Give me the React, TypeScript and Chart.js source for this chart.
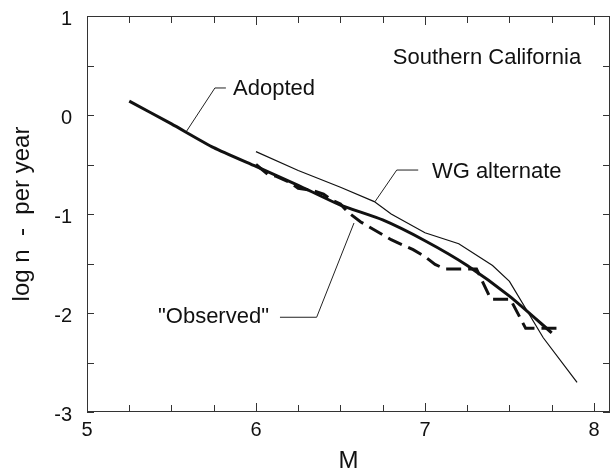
import React, { useEffect, useRef } from "react";
import { Chart, registerables } from "chart.js";

Chart.register(...registerables);

// ---- data ----
const adoptedM = [5.25, 5.5, 5.75, 6.0, 6.25, 6.5, 6.75, 7.0, 7.25, 7.5, 7.75];
const adoptedLogN = [0.14, -0.09, -0.33, -0.52, -0.71, -0.91, -1.06, -1.27, -1.52, -1.83, -2.2];

const wgM = [6.0, 6.25, 6.5, 6.7, 6.8, 7.0, 7.2, 7.4, 7.5, 7.7, 7.9];
const wgLogN = [-0.37, -0.56, -0.73, -0.875, -1.0, -1.19, -1.3, -1.52, -1.68, -2.25, -2.7];

const observedM = [6.0, 6.07, 6.12, 6.2, 6.25, 6.33, 6.4, 6.45, 6.5, 6.55, 6.62, 6.8, 6.93, 7.0, 7.06, 7.12, 7.305, 7.39, 7.505, 7.596, 7.81];
const observedLogN = [-0.5, -0.6, -0.62, -0.68, -0.74, -0.76, -0.8, -0.86, -0.9, -0.99, -1.08, -1.26, -1.36, -1.43, -1.51, -1.555, -1.555, -1.86, -1.86, -2.155, -2.155];

// leader lines for the annotations
const adoptedLeaderM = [5.822, 5.757, 5.586];
const adoptedLeaderLogN = [0.273, 0.273, -0.172];
const wgLeaderM = [6.96, 6.833, 6.704];
const wgLeaderLogN = [-0.556, -0.556, -0.876];
const obsLeaderM = [6.142, 6.359, 6.58];
const obsLeaderLogN = [-2.043, -2.043, -1.091];

const xTickLabels = ["5", "6", "7", "8"];
const yTickLabels = ["-3", "-2", "-1", "0", "1"];

const annotations = [
  { text: "Southern California", m: 6.81, logN: 0.575 },
  { text: "Adopted", m: 5.864, logN: 0.263 },
  { text: "WG alternate", m: 7.041, logN: -0.576 },
  { text: "\"Observed\"", m: 5.42, logN: -2.04 },
];

const FONT = '"Liberation Sans", Arial, Helvetica, sans-serif';
const INK = "#111";

const pts = (xs: number[], ys: number[]) => xs.map((x, i) => ({ x, y: ys[i] }));

const framePlugin = {
  id: "frameTicks",
  afterDraw(chart: any) {
    const { ctx, chartArea: a, scales } = chart;
    const xs = scales.x;
    const ys = scales.y;
    ctx.save();
    ctx.strokeStyle = "#333";
    ctx.lineWidth = 1;
    ctx.strokeRect(a.left + 0.5, a.top + 0.5, a.right - a.left - 1, a.bottom - a.top - 1);
    ctx.beginPath();
    xs.ticks.forEach((t: any) => {
      const px = Math.round(xs.getPixelForValue(t.value)) + 0.5;
      const len = Number.isInteger(t.value) ? 9 : 7;
      ctx.moveTo(px, a.bottom);
      ctx.lineTo(px, a.bottom - len);
      ctx.moveTo(px, a.top);
      ctx.lineTo(px, a.top + len);
    });
    ys.ticks.forEach((t: any) => {
      const py = Math.round(ys.getPixelForValue(t.value)) + 0.5;
      const len = 7;
      ctx.moveTo(a.left, py);
      ctx.lineTo(a.left + len, py);
      ctx.moveTo(a.right, py);
      ctx.lineTo(a.right - len, py);
    });
    ctx.stroke();

    ctx.fillStyle = INK;
    ctx.font = `22px ${FONT}`;
    ctx.textAlign = "left";
    ctx.textBaseline = "middle";
    annotations.forEach((an) => {
      ctx.fillText(an.text, xs.getPixelForValue(an.m), ys.getPixelForValue(an.logN));
    });
    ctx.restore();
  },
};

export default function App() {
  const ref = useRef<HTMLCanvasElement | null>(null);

  useEffect(() => {
    if (!ref.current) return;
    const thin = { borderColor: "#222", borderWidth: 1, pointRadius: 0, fill: false, tension: 0 };
    const chart = new Chart(ref.current, {
      type: "line",
      data: {
        datasets: [
          {
            label: "Adopted",
            data: pts(adoptedM, adoptedLogN),
            borderColor: INK,
            borderWidth: 3,
            pointRadius: 0,
            tension: 0.2,
            fill: false,
          },
          {
            label: "WG alternate",
            data: pts(wgM, wgLogN),
            borderColor: INK,
            borderWidth: 1.2,
            pointRadius: 0,
            tension: 0,
            fill: false,
          },
          {
            label: "Observed",
            data: pts(observedM, observedLogN),
            borderColor: INK,
            borderWidth: 3,
            borderDash: [15, 7],
            pointRadius: 0,
            tension: 0,
            fill: false,
          },
          { label: "l1", data: pts(adoptedLeaderM, adoptedLeaderLogN), ...thin },
          { label: "l2", data: pts(wgLeaderM, wgLeaderLogN), ...thin },
          { label: "l3", data: pts(obsLeaderM, obsLeaderLogN), ...thin },
        ],
      },
      options: {
        responsive: false,
        animation: false,
        parsing: false as any,
        layout: { padding: { left: 0, right: 6, top: 16, bottom: 0 } },
        plugins: { legend: { display: false }, tooltip: { enabled: false } },
        scales: {
          x: {
            type: "linear",
            min: 5,
            max: 8.095,
            grid: { display: false, drawTicks: false },
            border: { display: false },
            afterFit: (s: any) => {
              s.height = 59;
              s.paddingLeft = 0;
              s.paddingRight = 0;
            },
            ticks: {
              stepSize: 0.25,
              includeBounds: false,
              autoSkip: false,
              maxRotation: 0,
              padding: 6,
              color: INK,
              font: { family: FONT, size: 20 },
              callback: (v: any) => {
                const n = Number(v);
                if (!Number.isInteger(n)) return "";
                const s = String(n);
                return xTickLabels.includes(s) ? s : "";
              },
            },
            title: {
              display: true,
              text: "M",
              color: INK,
              font: { family: FONT, size: 24, lineHeight: 0.8 },
              padding: { top: 0, bottom: 0 },
            },
          },
          y: {
            type: "linear",
            min: -3,
            max: 1,
            grid: { display: false, drawTicks: false },
            border: { display: false },
            afterFit: (s: any) => {
              s.width = 87;
              s.paddingTop = 0;
              s.paddingBottom = 0;
            },
            ticks: {
              stepSize: 0.5,
              includeBounds: false,
              autoSkip: false,
              padding: 15,
              labelOffset: 3,
              color: INK,
              font: { family: FONT, size: 20 },
              callback: (v: any) => {
                const n = Number(v);
                if (!Number.isInteger(n)) return "";
                const s = String(n);
                return yTickLabels.includes(s) ? s : "";
              },
            },
            title: {
              display: true,
              text: "log n  -  per year",
              color: INK,
              font: { family: FONT, size: 24 },
              padding: { top: 8, bottom: 0 },
            },
          },
        },
      },
      plugins: [framePlugin],
    });
    return () => chart.destroy();
  }, []);

  return (
    <div style={{ position: "absolute", left: 0, top: 0, width: 616, height: 471, background: "#fff" }}>
      <canvas ref={ref} width={616} height={471} style={{ display: "block" }} />
    </div>
  );
}
